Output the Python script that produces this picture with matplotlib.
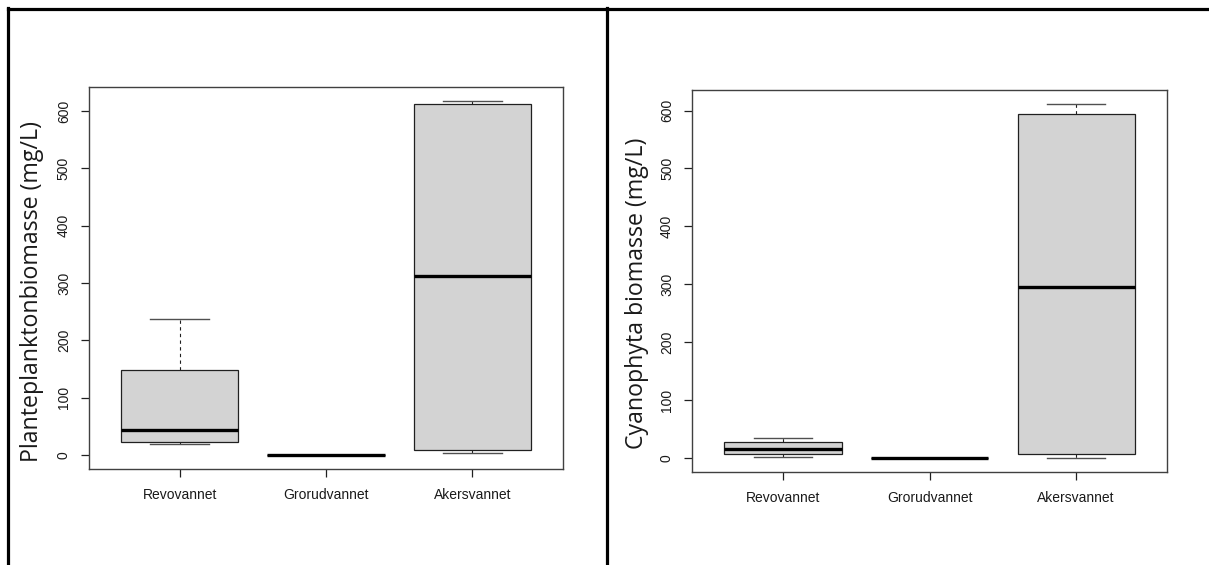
import matplotlib
matplotlib.use("Agg")
import matplotlib.pyplot as plt
from matplotlib.lines import Line2D

# Lakes on the x axis
lakes = ["Revovannet", "Grorudvannet", "Akersvannet"]

# Phytoplankton biomass (mg/L): five-number summaries per lake
plankton_whislo = [19, 0.5, 3]
plankton_q1 = [22, 0.5, 9]
plankton_med = [43, 0.5, 312]
plankton_q3 = [149, 0.5, 612]
plankton_whishi = [238, 0.5, 617]

# Cyanophyta biomass (mg/L): five-number summaries per lake
cyano_whislo = [1, 0, 0]
cyano_q1 = [6, 0, 6]
cyano_med = [14.5, 0, 295]
cyano_q3 = [27, 0, 594]
cyano_whishi = [33.5, 0, 611]

y_ticks = [0, 100, 200, 300, 400, 500, 600]

BOX_FILL = "#d3d3d3"
FRAME = "#404040"
TEXT = "#1a1a1a"
W, H = 1209, 565


def stats(lo, q1, med, q3, hi):
    return [dict(whislo=a, q1=b, med=c, q3=d, whishi=e, fliers=[], label=name)
            for a, b, c, d, e, name in zip(lo, q1, med, q3, hi, lakes)]


def draw_panel(ax, st):
    ax.bxp(st, positions=[1, 2, 3], widths=0.8, capwidths=0.4,
           patch_artist=True, showfliers=False,
           boxprops=dict(facecolor=BOX_FILL, edgecolor="#202020", linewidth=0.9),
           medianprops=dict(color="black", linewidth=2.4, solid_capstyle="butt"),
           whiskerprops=dict(color="#202020", linewidth=0.8, linestyle=(0, (3, 3))),
           capprops=dict(color="#505050", linewidth=1.0))
    lo = min(s["whislo"] for s in st)
    hi = max(s["whishi"] for s in st)
    pad = 0.04 * (hi - lo)
    ax.set_ylim(lo - pad, hi + pad)
    ax.set_xlim(0.38, 3.62)
    ax.set_yticks(y_ticks)
    ax.set_yticklabels([str(v) for v in y_ticks], rotation=90, va="center",
                       family="Liberation Sans", fontsize=10, color=TEXT)
    ax.set_xticks([1, 2, 3])
    ax.set_xticklabels(lakes, family="Liberation Sans", fontsize=10, color=TEXT)
    ax.tick_params(axis="y", direction="out", length=6, width=0.9, pad=7, color="#202020")
    ax.tick_params(axis="x", direction="out", length=6, width=0.9, pad=8, color="#202020")
    for sp in ax.spines.values():
        sp.set_color(FRAME)
        sp.set_linewidth(1.0)


fig = plt.figure(figsize=(12.09, 5.65), dpi=100)

ax1 = fig.add_axes([0.0736, 0.170, 0.3921, 0.676])
draw_panel(ax1, stats(plankton_whislo, plankton_q1, plankton_med, plankton_q3, plankton_whishi))
fig.text(32 / W, 1 - 291 / H, "Planteplanktonbiomasse (mg/L)", rotation=90,
         ha="center", va="center", family="Open Sans", fontsize=16.7, color=TEXT)

ax2 = fig.add_axes([0.5724, 0.1646, 0.3929, 0.6761])
draw_panel(ax2, stats(cyano_whislo, cyano_q1, cyano_med, cyano_q3, cyano_whishi))
fig.text(637 / W, 1 - 293 / H, "Cyanophyta biomasse (mg/L)", rotation=90,
         ha="center", va="center", family="Open Sans", fontsize=16.7, color=TEXT)

# Outer frame lines around the two panels
for xs, ys in [((8 / W, 1.0), (1 - 9 / H, 1 - 9 / H)),
               ((8 / W, 8 / W), (0.0, 1 - 8 / H)),
               ((607 / W, 607 / W), (0.0, 1 - 8 / H))]:
    fig.add_artist(Line2D(xs, ys, transform=fig.transFigure, color="black", linewidth=2.3))

fig.savefig("out.png", dpi=100, facecolor="white")
